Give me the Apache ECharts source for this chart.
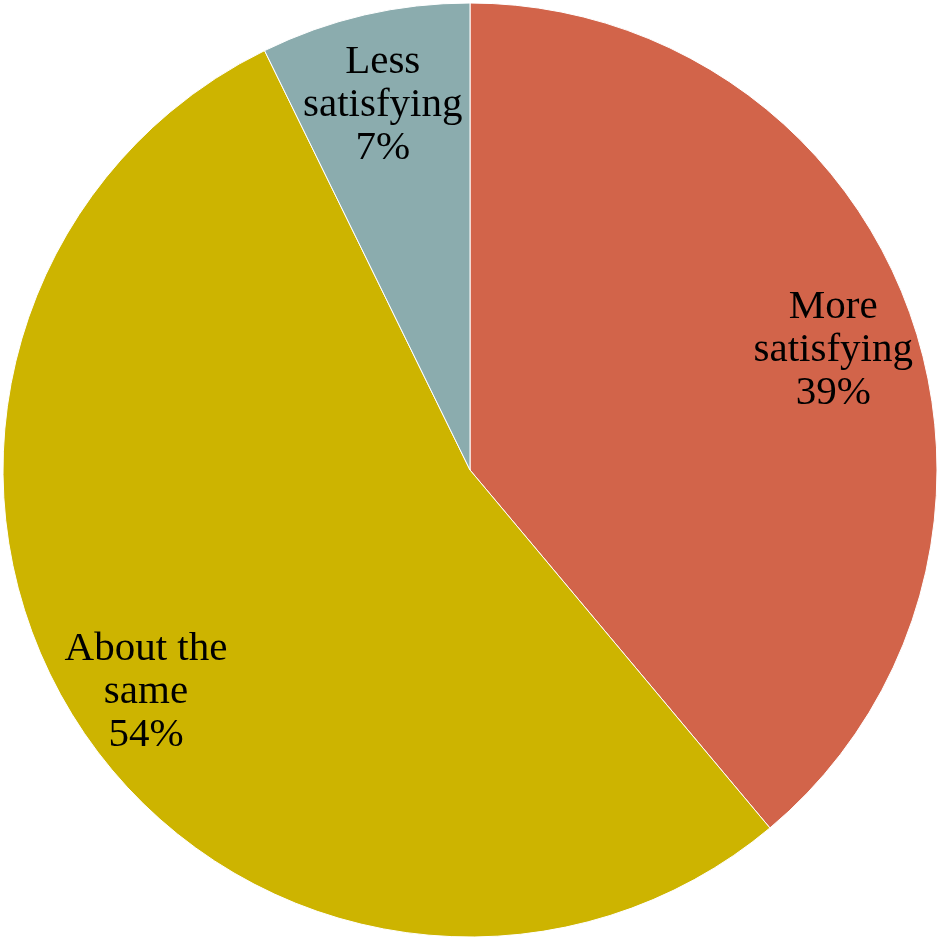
<!DOCTYPE html>
<html>
<head>
<meta charset="utf-8">
<script src="https://cdn.jsdelivr.net/npm/echarts@6/dist/echarts.min.js"></script>
<style>html,body{margin:0;padding:0;background:#fff;}#chart{width:938px;height:937px;}</style>
</head>
<body>
<div id="chart"></div>
<script>
const categories = ["More\nsatisfying", "About the\nsame", "Less\nsatisfying"];
const values = [38.9, 53.85, 7.25];
const colors = ["#D2644A", "#CDB400", "#8BACAE"];

const chart = echarts.init(document.getElementById('chart'));
const data = categories.map((c, i) => ({ name: c, value: values[i], itemStyle: { color: colors[i] } }));
const labelData = categories.map((c, i) => ({ name: c, value: values[i] }));
chart.setOption({
  animation: false,
  series: [
    {
      type: 'pie',
      center: [470, 470],
      radius: [0, 467],
      startAngle: 90,
      clockwise: true,
      data: data,
      itemStyle: { borderColor: '#ffffff', borderWidth: 1 },
      label: { show: false },
      labelLine: { show: false },
      silent: true
    },
    {
      type: 'pie',
      center: [470, 470],
      radius: [300, 467],
      startAngle: 90,
      clockwise: true,
      data: labelData,
      itemStyle: { color: 'rgba(0,0,0,0)' },
      label: {
        show: true,
        position: 'inside',
        formatter: p => p.name + '\n' + Math.round(p.value) + '%',
        fontFamily: 'Liberation Serif',
        fontSize: 41,
        lineHeight: 43,
        color: '#000',
        align: 'center',
        offset: [0, 12]
      },
      labelLine: { show: false },
      silent: true
    }
  ]
});
</script>
</body>
</html>
